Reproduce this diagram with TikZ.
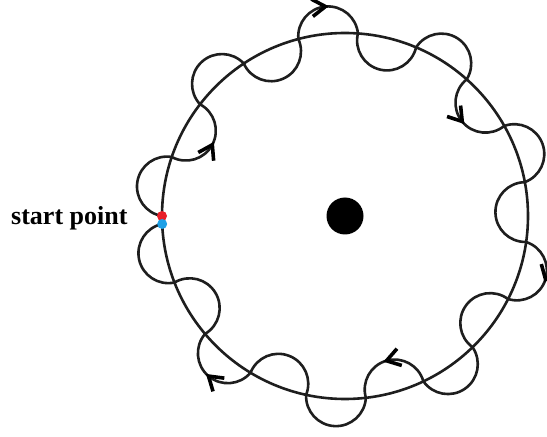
\documentclass[tikz,border=0pt]{standalone}
\usepackage{fontspec}
\setmainfont{Liberation Serif}
\usepackage{tikz}
\usetikzlibrary{positioning}

\definecolor{startred}{RGB}{232,30,40}
\definecolor{endblue}{RGB}{30,160,230}
\definecolor{ink}{RGB}{30,30,30}

\begin{document}
\begin{tikzpicture}[x=1pt,y=1pt,
  orbit/.style={draw=ink,line width=2.6pt},
  wave/.style={draw=ink,line width=2.6pt,line join=round},
  barb/.style={draw=black,line width=3.6pt,line join=miter,line cap=butt},
  dot/.style={circle,inner sep=0pt,minimum size=10pt}]
\useasboundingbox (0,0) rectangle (547,437);
\coordinate (O) at (345,221);
\draw[orbit] (O) circle (183);
\node[circle,fill=black,inner sep=0pt,minimum size=37pt] (hub) at (O) {};
% the wave: 19 half loops, out and in, clockwise
\draw[wave] (O) ++(180:183)
  \foreach \k [evaluate=\k as \m using {180-(\k+0.5)*357.5/19}] in {0,...,18} {
    arc[start angle=\m+90, end angle={\m-90+mod(\k,2)*360}, radius=29.9]
  };
% arrow heads on every third loop
\foreach \k/\d in {1/150.6,4/210.4,7/150.6,10/210.4,13/150.6,16/210.4} {
  \pgfmathsetmacro\m{180-(\k+0.5)*357.5/19}
  \coordinate (tip\k) at ([shift={(\m:\d)}]O);
  \draw[barb] ([shift={(\m+90-33:16)}]tip\k) -- (tip\k) -- ([shift={(\m+90+33:16)}]tip\k);
}
\path (O) ++(180:183) node[dot,fill=startred] (start) {};
\path (O) ++(182.5:183) node[dot,fill=endblue] (stop) {};
\node[anchor=base east,font=\fontsize{26}{30}\selectfont\bfseries] (caption) at (131,212) {start point};
\end{tikzpicture}
\end{document}
